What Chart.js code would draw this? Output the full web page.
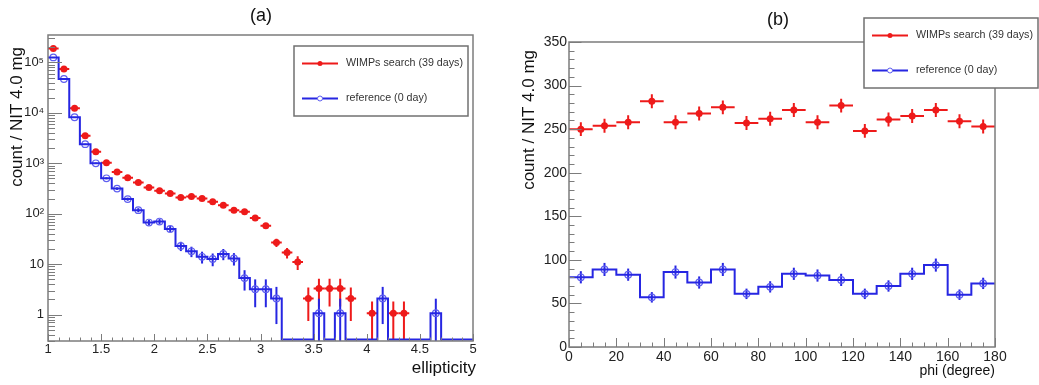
<!DOCTYPE html>
<html>
<head>
<meta charset="utf-8">
<script src="https://cdn.jsdelivr.net/npm/chart.js@4.4.0/dist/chart.umd.min.js"></script>
<style>
    html, body { margin: 0; padding: 0; background: #fff; }
    #wrap { position: relative; width: 1039px; height: 385px; overflow: hidden; }
    .panel { position: absolute; top: 0; height: 385px; }
    #panelA { left: 0; width: 520px; }
    #panelB { left: 520px; width: 519px; }
</style>
</head>
<body>
<div id="wrap">
    <div class="panel" id="panelA"><canvas id="chartA"></canvas></div>
    <div class="panel" id="panelB"><canvas id="chartB"></canvas></div>
</div>
<script>
// (a) ellipticity histogram, bins of 0.1 from 1 to 5
const ellCenters = [1.05, 1.15, 1.25, 1.35, 1.45, 1.55, 1.65, 1.75, 1.85, 1.95,
    2.05, 2.15, 2.25, 2.35, 2.45, 2.55, 2.65, 2.75, 2.85, 2.95,
    3.05, 3.15, 3.25, 3.35, 3.45, 3.55, 3.65, 3.75, 3.85, 3.95,
    4.05, 4.15, 4.25, 4.35, 4.45, 4.55, 4.65, 4.75, 4.85, 4.95];
const wimpEll = [190000, 74000, 12400, 3500, 1700, 1030, 670, 520, 415, 330,
    285, 252, 210, 220, 200, 173, 148, 118, 110, 82,
    58, 27, 17, 11, 2.1, 3.3, 3.3, 3.3, 2.1, 0,
    1.07, 0, 1.07, 1.07, 0, 0, 0, 0, 0, 0];
const wimpEllErr = [430, 270, 110, 58, 40, 31, 25, 22, 20, 17,
    16, 15, 14, 14, 13, 12, 11, 10, 10, 8.5,
    7, 5, 4, 3.3, 1.35, 1.85, 1.85, 1.85, 1.35, 0,
    0.75, 0, 0.75, 0.75, 0, 0, 0, 0, 0, 0];
const refEll = [126000, 47000, 8200, 2400, 1000, 505, 315, 195, 118, 67,
    70, 50, 23, 18, 14, 12.7, 16, 13, 5.3, 3.2,
    3.2, 2.1, 0, 0, 0, 1.07, 0, 1.07, 0, 0,
    0, 2.1, 0, 0, 0, 0, 1.07, 0, 0, 0];
const refEllErr = [355, 217, 90, 49, 32, 22, 18, 14, 11, 8.2,
    8.4, 7.1, 4.8, 4.2, 3.7, 3.6, 4, 3.6, 2.3, 1.8,
    1.8, 1.45, 0, 0, 0, 1, 0, 1, 0, 0,
    0, 1.45, 0, 0, 0, 0, 1, 0, 0, 0];
const ellXTicks = [1, 1.5, 2, 2.5, 3, 3.5, 4, 4.5, 5];
const ellYTicks = [1, 10, 100, 1000, 10000, 100000];
const ellYLabels = ['1', '10', '10²', '10³', '10⁴', '10⁵'];

// (b) phi histogram, bins of 10 degrees
const phiCenters = [5, 15, 25, 35, 45, 55, 65, 75, 85, 95, 105, 115, 125, 135, 145, 155, 165, 175];
const wimpPhi = [250, 254, 258, 282, 258, 268, 275, 257, 262, 272, 258, 277, 248, 261, 265, 272, 259, 253];
const wimpPhiErr = [8, 8, 8, 8, 8, 8, 8, 8, 8, 8, 8, 8, 8, 8, 8, 8, 8, 8];
const refPhi = [80, 89, 83, 57, 86, 74, 89, 61, 69, 84, 82, 77, 61, 70, 84, 94, 60, 73];
const refPhiErr = [7, 7.5, 7, 6, 7.5, 7, 7.5, 6, 6.5, 7, 7, 7, 6, 6.5, 7, 7.5, 6, 6.5];
const phiXTicks = [0, 20, 40, 60, 80, 100, 120, 140, 160, 180];
const phiYTicks = [0, 50, 100, 150, 200, 250, 300, 350];

const seriesNames = ['WIMPs search (39 days)', 'reference (0 day)'];

const RED = 'rgb(238, 26, 26)';
const BLUE = 'rgb(38, 38, 226)';
const BLUE_MARK = 'rgb(95, 95, 240)';
const FRAME = '#7c7c7c';
const FONT = '"Liberation Sans", Arial, Helvetica, sans-serif';

// histogram outline: one point per left bin edge + closing right edge
function stepPoints(centers, values, half, floor) {
    const pts = centers.map((c, i) => ({ x: c - half, y: values[i] > 0 ? values[i] : floor }));
    pts.push({ x: centers[centers.length - 1] + half, y: pts[pts.length - 1].y });
    return pts;
}

function markerPoints(centers, values) {
    return centers.map((c, i) => ({ x: c, y: values[i] > 0 ? values[i] : null }));
}

// ROOT-like frame, inner ticks, error bars, legend box and titles
const rootStyle = {
    id: 'rootStyle',
    beforeDatasetsDraw(chart) {
        const { ctx, chartArea: a, scales: { x, y } } = chart;
        ctx.save();
        ctx.beginPath();
        ctx.rect(a.left, a.top, a.right - a.left, a.bottom - a.top);
        ctx.clip();
        chart.data.datasets.forEach(ds => {
            if (!ds.errors) return;
            ctx.strokeStyle = ds.errColor;
            ctx.lineWidth = 2;
            ds.centers.forEach((c, i) => {
                const v = ds.values[i];
                if (!(v > 0)) return;
                const px = x.getPixelForValue(c);
                const py = y.getPixelForValue(v);
                const lo = Math.max(v - ds.errors[i], y.min);
                ctx.beginPath();
                ctx.moveTo(px, y.getPixelForValue(lo));
                ctx.lineTo(px, y.getPixelForValue(v + ds.errors[i]));
                if (ds.xBar) {
                    ctx.moveTo(x.getPixelForValue(c - ds.half), py);
                    ctx.lineTo(x.getPixelForValue(c + ds.half), py);
                }
                ctx.stroke();
            });
        });
        ctx.restore();
    },
    afterDraw(chart, args, o) {
        const { ctx, chartArea: a, scales: { x, y } } = chart;
        ctx.save();

        // ticks
        ctx.strokeStyle = FRAME;
        ctx.lineWidth = 1;
        ctx.beginPath();
        const xTick = (v, len) => {
            const p = Math.round(x.getPixelForValue(v)) + 0.5;
            ctx.moveTo(p, a.bottom);
            ctx.lineTo(p, a.bottom - len);
        };
        const yTick = (v, len) => {
            const p = Math.round(y.getPixelForValue(v)) + 0.5;
            ctx.moveTo(a.left, p);
            ctx.lineTo(a.left + len, p);
        };
        const nx = Math.round((x.max - x.min) / o.xMinorStep);
        for (let k = 0; k <= nx; k++) xTick(x.min + k * o.xMinorStep, o.xMinorLen);
        o.xMajor.forEach(v => xTick(v, o.xMajorLen));
        if (o.yLog) {
            for (let d = Math.floor(Math.log10(y.min)); d <= Math.ceil(Math.log10(y.max)); d++) {
                for (let k = 2; k <= 9; k++) {
                    const v = k * Math.pow(10, d);
                    if (v >= y.min && v <= y.max) yTick(v, o.yMinorLen);
                }
            }
        } else {
            const ny = Math.round((y.max - y.min) / o.yMinorStep);
            for (let k = 0; k <= ny; k++) yTick(y.min + k * o.yMinorStep, o.yMinorLen);
        }
        o.yMajor.forEach(v => yTick(v, o.yMajorLen));
        ctx.stroke();

        // frame
        ctx.lineWidth = 1.5;
        ctx.strokeRect(a.left, a.top, a.right - a.left, a.bottom - a.top);

        // legend box
        const lg = o.legend;
        ctx.fillStyle = '#fff';
        ctx.fillRect(lg.x, lg.y, lg.w, lg.h);
        ctx.strokeStyle = '#707070';
        ctx.lineWidth = 1.5;
        ctx.strokeRect(lg.x, lg.y, lg.w, lg.h);
        const entries = chart.data.datasets.filter(ds => ds.legendRow !== undefined);
        entries.forEach(ds => {
            const ly = lg.y + lg.h * ds.legendRow;
            ctx.strokeStyle = ds.errColor;
            ctx.lineWidth = 2;
            ctx.beginPath();
            ctx.moveTo(lg.x + 8, ly);
            ctx.lineTo(lg.x + 44, ly);
            ctx.stroke();
            ctx.beginPath();
            ctx.arc(lg.x + 26, ly, 2.5, 0, Math.PI * 2);
            if (ds.xBar) {
                ctx.fillStyle = ds.errColor;
                ctx.fill();
            } else {
                ctx.fillStyle = '#fff';
                ctx.fill();
                ctx.strokeStyle = BLUE_MARK;
                ctx.lineWidth = 1;
                ctx.stroke();
            }
            ctx.fillStyle = '#333';
            ctx.font = '10.7px ' + FONT;
            ctx.textAlign = 'left';
            ctx.textBaseline = 'middle';
            ctx.fillText(ds.label, lg.x + 52, ly);
        });

        // titles
        ctx.fillStyle = '#111';
        ctx.textBaseline = 'alphabetic';
        ctx.font = o.title.size + 'px ' + FONT;
        ctx.textAlign = 'center';
        ctx.fillText(o.title.text, o.title.x, o.title.y);
        ctx.font = o.xTitle.size + 'px ' + FONT;
        ctx.textAlign = 'right';
        ctx.fillText(o.xTitle.text, o.xTitle.x, o.xTitle.y);
        ctx.translate(o.yTitle.x, o.yTitle.y);
        ctx.rotate(-Math.PI / 2);
        ctx.font = o.yTitle.size + 'px ' + FONT;
        ctx.fillText(o.yTitle.text, 0, 0);
        ctx.restore();
    }
};

function makeChart(canvasId, c) {
    const ctx = document.getElementById(canvasId).getContext('2d');
    return new Chart(ctx, {
        type: 'scatter',
        data: {
            datasets: [
                {
                    label: seriesNames[0],
                    data: markerPoints(c.centers, c.wimp),
                    centers: c.centers, values: c.wimp, errors: c.wimpErr, half: c.half,
                    xBar: true, errColor: RED, legendRow: 0.25,
                    pointRadius: 3.5, pointBackgroundColor: RED, pointBorderColor: RED, pointBorderWidth: 0
                },
                {
                    label: 'ref-outline',
                    type: 'line',
                    data: stepPoints(c.centers, c.ref, c.half, c.yMin),
                    stepped: 'before',
                    borderColor: BLUE,
                    borderWidth: 2,
                    pointRadius: 0,
                    fill: false,
                    clip: false
                },
                {
                    label: seriesNames[1],
                    data: markerPoints(c.centers, c.ref),
                    centers: c.centers, values: c.ref, errors: c.refErr, half: c.half,
                    xBar: false, errColor: BLUE, legendRow: 0.75,
                    pointRadius: 3.3, pointBackgroundColor: 'rgba(255,255,255,0)',
                    pointBorderColor: BLUE_MARK, pointBorderWidth: 1.2
                }
            ]
        },
        options: {
            responsive: true,
            maintainAspectRatio: false,
            animation: false,
            events: [],
            layout: { padding: c.padding },
            plugins: {
                legend: { display: false },
                tooltip: { enabled: false },
                rootStyle: c.style
            },
            scales: {
                x: {
                    type: 'linear',
                    min: c.xMin, max: c.xMax,
                    afterBuildTicks: s => { s.ticks = c.xTicks.map(v => ({ value: v })); },
                    afterFit: s => { s.height = c.xHeight; },
                    ticks: {
                        autoSkip: false, maxRotation: 0, padding: c.xPad,
                        color: '#222', font: { family: FONT, size: c.tickSize },
                        callback: v => String(v)
                    },
                    grid: { display: false, drawTicks: false },
                    border: { display: false }
                },
                y: {
                    type: c.yType,
                    min: c.yMin, max: c.yMax,
                    afterBuildTicks: s => { s.ticks = c.yTicks.map(v => ({ value: v })); },
                    afterFit: s => { s.width = c.yWidth; },
                    ticks: {
                        autoSkip: false, padding: c.yPad,
                        color: '#222', font: { family: FONT, size: c.tickSize },
                        callback: (v, i) => c.yLabels ? c.yLabels[i] : String(v)
                    },
                    grid: { display: false, drawTicks: false },
                    border: { display: false }
                }
            }
        },
        plugins: [rootStyle]
    });
}

makeChart('chartA', {
    centers: ellCenters, wimp: wimpEll, wimpErr: wimpEllErr, ref: refEll, refErr: refEllErr, half: 0.05,
    xMin: 1, xMax: 5, xTicks: ellXTicks,
    yType: 'logarithmic', yMin: 0.32, yMax: 350000, yTicks: ellYTicks, yLabels: ellYLabels,
    padding: { left: 0, top: 35, right: 47, bottom: 0 }, xHeight: 44, yWidth: 48, xPad: 1, yPad: 4, tickSize: 13,
    style: {
        xMajor: ellXTicks, xMinorStep: 0.1, xMajorLen: 7, xMinorLen: 3.5,
        yMajor: ellYTicks, yLog: true, yMajorLen: 14, yMinorLen: 7,
        legend: { x: 294, y: 46, w: 174, h: 70 },
        title: { text: '(a)', x: 261, y: 21, size: 18 },
        xTitle: { text: 'ellipticity', x: 476, y: 373, size: 17 },
        yTitle: { text: 'count / NIT 4.0 mg', x: 22, y: 47, size: 17 }
    }
});

makeChart('chartB', {
    centers: phiCenters, wimp: wimpPhi, wimpErr: wimpPhiErr, ref: refPhi, refErr: refPhiErr, half: 5,
    xMin: 0, xMax: 180, xTicks: phiXTicks,
    yType: 'linear', yMin: 0, yMax: 350, yTicks: phiYTicks, yLabels: null,
    padding: { left: 0, top: 42, right: 44, bottom: 0 }, xHeight: 38, yWidth: 49, xPad: 2, yPad: 2, tickSize: 14,
    style: {
        xMajor: phiXTicks, xMinorStep: 5, xMajorLen: 9, xMinorLen: 4.5,
        yMajor: phiYTicks, yMinorStep: 10, yMajorLen: 12.5, yMinorLen: 5.5,
        legend: { x: 344, y: 18, w: 174, h: 70 },
        title: { text: '(b)', x: 258, y: 25, size: 18 },
        xTitle: { text: 'phi (degree)', x: 475, y: 375, size: 14 },
        yTitle: { text: 'count / NIT 4.0 mg', x: 14, y: 50, size: 17 }
    }
});
</script>
</body>
</html>
